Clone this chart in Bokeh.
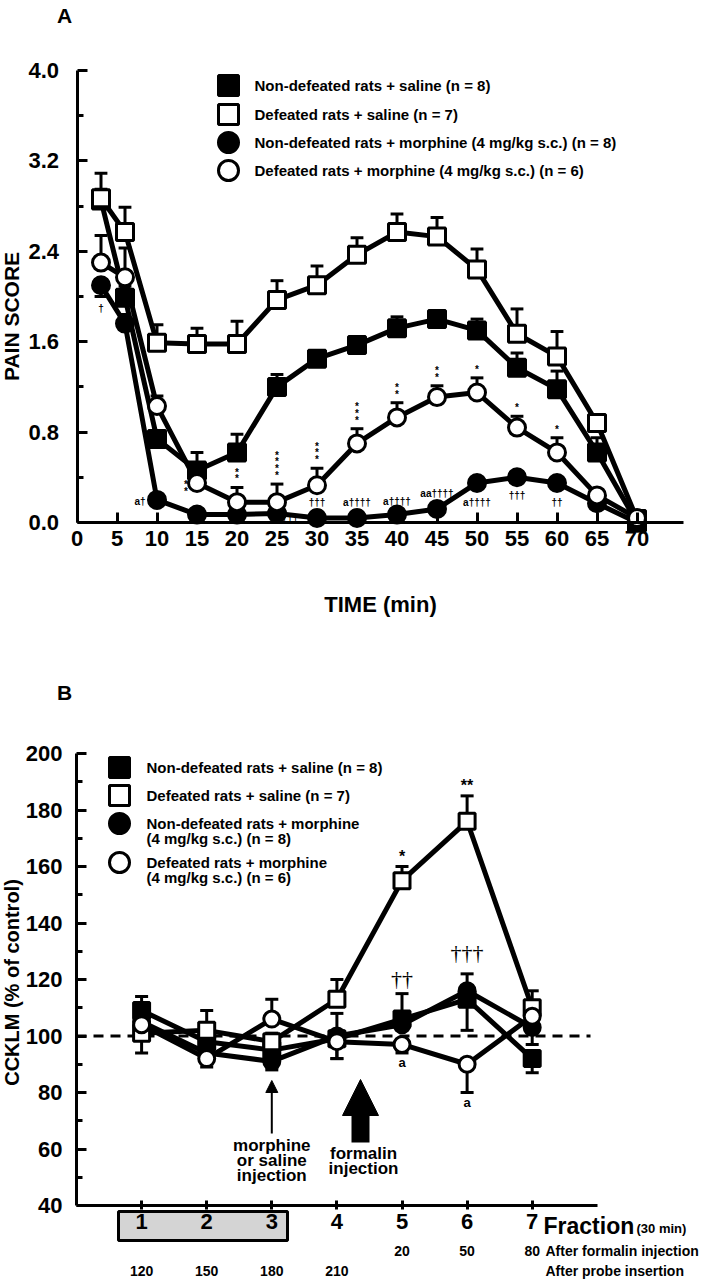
import numpy as np
from bokeh.plotting import figure
from bokeh.layouts import column
from bokeh.models import (Label, Arrow, NormalHead, BoxAnnotation, FixedTicker, Range1d,
                          PrintfTickFormatter)
from bokeh.core.properties import value
from bokeh.embed import file_html
from bokeh.resources import INLINE

SANS = "Liberation Sans"
SERIF = "Liberation Serif"

# ---------------- Panel A data (pain score) ----------------
time_min = [3, 6, 10, 15, 20, 25, 30, 35, 40, 45, 50, 55, 60, 65, 70]
nondef_saline = [2.85, 1.99, 0.74, 0.46, 0.62, 1.20, 1.45, 1.57, 1.72, 1.80, 1.70, 1.37, 1.18, 0.62, 0.00]
nondef_saline_sem = [0.10, 0.10, 0.06, 0.16, 0.16, 0.11, 0.07, 0.07, 0.10, 0.07, 0.10, 0.13, 0.16, 0.13, 0.0]
def_saline = [2.87, 2.57, 1.59, 1.58, 1.58, 1.97, 2.10, 2.37, 2.57, 2.53, 2.24, 1.67, 1.47, 0.88, 0.03]
def_saline_sem = [0.22, 0.22, 0.16, 0.14, 0.20, 0.17, 0.17, 0.15, 0.16, 0.17, 0.18, 0.22, 0.22, 0.05, 0.0]
nondef_morph = [2.10, 1.76, 0.20, 0.07, 0.07, 0.08, 0.04, 0.04, 0.07, 0.12, 0.35, 0.40, 0.35, 0.17, 0.00]
nondef_morph_sem = [-0.10, 0.08, 0.03, 0.05, 0.03, 0.03, 0.02, 0.02, 0.02, 0.03, 0.05, 0.04, 0.04, 0.03, 0.0]
def_morph = [2.30, 2.17, 1.03, 0.35, 0.18, 0.18, 0.33, 0.70, 0.93, 1.11, 1.15, 0.84, 0.62, 0.24, 0.04]
def_morph_sem = [0.24, 0.26, 0.09, 0.15, 0.13, 0.16, 0.15, 0.13, 0.13, 0.10, 0.13, 0.10, 0.13, 0.04, 0.0]

a_xticks = [0, 5, 10, 15, 20, 25, 30, 35, 40, 45, 50, 55, 60, 65, 70]
a_yticks = [0.0, 0.8, 1.6, 2.4, 3.2, 4.0]
a_yminor = [0.4, 1.2, 2.0, 2.8, 3.6]

legend_a = ["Non-defeated rats + saline (n = 8)",
            "Defeated rats + saline (n = 7)",
            "Non-defeated rats + morphine (4 mg/kg s.c.) (n = 8)",
            "Defeated rats + morphine (4 mg/kg s.c.) (n = 6)"]

star_times = [15, 20, 25, 30, 35, 40, 45, 50, 55, 60]
star_count = [2, 2, 4, 3, 3, 2, 2, 1, 1, 1]
dagger_times = [3, 10, 25, 30, 35, 40, 45, 50, 55, 60]
dagger_text = ["†", "a†", "†††", "†††", "a††††", "a††††", "aa††††", "a††††", "†††", "††"]

# ---------------- Panel B data (CCKLM % of control) ----------------
fraction = [1, 2, 3, 4, 5, 6, 7]
b_nondef_saline = [109, 98, 95, 99, 106, 113, 92]
b_nondef_saline_sem = [5, -4, -6, -7, 9, -11, -5]
b_def_saline = [101, 102, 98, 113, 155, 176, 110]
b_def_saline_sem = [-7, 7, 3, 7, 5, 9, 6]
b_nondef_morph = [105, 94, 91, 100, 104, 116, 103]
b_nondef_morph_sem = [3, -3, -3, 8, 4, 6, -6]
b_def_morph = [104, 92, 106, 98, 97, 90, 107]
b_def_morph_sem = [-3, -3, 7, -6, -3, -10, 3]
control_level = 100

b_yticks = [40, 60, 80, 100, 120, 140, 160, 180, 200]
b_yminor = [50, 70, 90, 110, 130, 150, 170, 190]
after_formalin = ["", "", "", "", "20", "50", "80"]
after_probe = ["120", "150", "180", "210", "", "", ""]

legend_b = [["Non-defeated rats + saline (n = 8)"],
            ["Defeated rats + saline (n = 7)"],
            ["Non-defeated rats + morphine", "(4 mg/kg s.c.) (n = 8)"],
            ["Defeated rats + morphine", "(4 mg/kg s.c.) (n = 6)"]]

STYLES = [("square", "black"), ("square", "white"), ("circle", "black"), ("circle", "white")]

# ---------------- layout geometry (pixels) ----------------
W = 705
A_H = 630
A_X0, A_PXX = 76.5, 8.0       # x pixel of t=0, px per minute
A_Y0, A_PXY = 522.0, 113.0    # y pixel of score 0, px per score unit
B_TOP, B_H = 630, 650
B_X0, B_PXX = 76.0, 65.1      # x pixel of fraction 0, px per fraction
B_Y40, B_PXY = 1205.0, 2.825  # page y pixel of 40 %, px per %


def pa(xp, yp):
    return (xp - A_X0) / A_PXX, (A_Y0 - yp) / A_PXY


def pb(xp, yp):
    return (xp - B_X0) / B_PXX, 40 + (B_Y40 - yp) / B_PXY


def style_axis(ax, tick_in=10, tick_out=0, standoff=8):
    ax.axis_line_width = 3
    ax.axis_line_color = "black"
    ax.major_tick_line_color = "black"
    ax.minor_tick_line_color = "black"
    ax.major_tick_line_width = 3
    ax.minor_tick_line_width = 3
    ax.major_tick_in = tick_in
    ax.major_tick_out = tick_out
    ax.minor_tick_in = 6
    ax.minor_tick_out = 0
    ax.major_label_text_font = SANS
    ax.major_label_text_font_style = "bold"
    ax.major_label_text_font_size = "22px"
    ax.major_label_text_color = "black"
    ax.major_label_standoff = standoff
    ax.axis_label_text_color = "black"


def add_label(p, x, y, text, size, font=SANS, style="bold", align="center",
              baseline="middle", angle=0.0):
    p.add_layout(Label(x=x, y=y, text=text, text_font=font, text_font_style=style,
                       text_font_size=size, text_align=align, text_baseline=baseline,
                       angle=angle, text_color="black"))


def draw_errorbars(p, xs, vals, sems, half):
    sx, sy0, sy1, cx0, cx1 = [], [], [], [], []
    for x, v, s in zip(xs, vals, sems):
        if s == 0:
            continue
        sx.append(x); sy0.append(v); sy1.append(v + s)
        cx0.append(x - half); cx1.append(x + half)
    p.segment(x0=sx, y0=sy0, x1=sx, y1=sy1, line_width=3, line_color="black")
    p.segment(x0=cx0, y0=sy1, x1=cx1, y1=sy1, line_width=3, line_color="black")


def base_fig(height, xr, yr):
    p = figure(width=W, height=height, x_range=Range1d(*xr), y_range=Range1d(*yr),
               output_backend="svg", toolbar_location=None,
               min_border_left=0, min_border_right=0, min_border_top=0, min_border_bottom=0)
    p.title.visible = False
    p.outline_line_color = None
    p.xgrid.grid_line_color = None
    p.ygrid.grid_line_color = None
    p.background_fill_color = "white"
    p.border_fill_color = "white"
    return p


# ======================= Panel A =======================
xa0, ya_top = pa(0, 0)
xa1, ya_bot = pa(W, A_H)
pA = base_fig(A_H, (xa0, xa1), (ya_bot, ya_top))

style_axis(pA.xaxis[0], tick_in=10, tick_out=0, standoff=8)
style_axis(pA.yaxis[0], tick_in=10, tick_out=0, standoff=18)
pA.xaxis[0].fixed_location = 0
pA.yaxis[0].fixed_location = 0
pA.xaxis[0].bounds = (0, pa(683, 0)[0])
pA.yaxis[0].bounds = (0, 4.0)
pA.xaxis[0].ticker = FixedTicker(ticks=a_xticks, minor_ticks=[])
pA.yaxis[0].ticker = FixedTicker(ticks=a_yticks, minor_ticks=a_yminor)
pA.yaxis[0].formatter = PrintfTickFormatter(format="%.1f")
pA.xaxis[0].axis_label = "TIME (min)"
pA.xaxis[0].axis_label_text_font = SANS
pA.xaxis[0].axis_label_text_font_style = "bold"
pA.xaxis[0].axis_label_text_font_size = "22px"
pA.xaxis[0].axis_label_standoff = 43

seriesA = [(nondef_saline, nondef_saline_sem), (def_saline, def_saline_sem),
           (nondef_morph, nondef_morph_sem), (def_morph, def_morph_sem)]

for vals, sem in seriesA:
    pA.line(time_min, vals, line_width=5, line_color="black")
for vals, sem in seriesA:
    draw_errorbars(pA, time_min, vals, sem, 0.8)
for (vals, sem), (mk, fill) in zip(seriesA, STYLES):
    pA.scatter(time_min, vals, marker=mk, size=17, fill_color=fill,
               line_color="black", line_width=3)

# stars above defeated+morphine error caps
star_dx = [-11, 0, 0, 0, 0, 0, 0, 0, 0, 0]
star_dy = [31, -3, -3, -3, -3, -3, -3, -3, -3, -3]
sx, sy, stxt = [], [], []
for t, n in zip(star_times, star_count):
    i = time_min.index(t)
    sx.append(t)
    sy.append(def_morph[i] + def_morph_sem[i])
    stxt.append("\n".join(["*"] * n))
pA.text(x=sx, y=sy, text=stxt, x_offset=star_dx, y_offset=star_dy,
        text_font=value(SANS), text_font_style="bold", text_font_size="10px",
        text_align="center", text_baseline="bottom", text_line_height=0.62,
        text_color="black")

# daggers near non-defeated+morphine points
dag_dx = [0, -17, 13, 0, 0, 0, 0, 0, 0, 0]
dag_dy = [23, 2, 5, -15, -15, -13, -15, 20, 18, 20]
gx, gy = [], []
for t in dagger_times:
    i = time_min.index(t)
    gx.append(t)
    gy.append(nondef_morph[i])
pA.text(x=gx, y=gy, text=dagger_text, x_offset=dag_dx, y_offset=dag_dy,
        text_font=value(SANS), text_font_style="bold", text_font_size="10px",
        text_align="center", text_baseline="middle", text_color="black")

# legend A
lx, _ = pa(228, 0)
ltx, _ = pa(254, 0)
for (mk, fill), yp, txt in zip(STYLES, [85, 114, 142, 170], legend_a):
    _, yy = pa(0, yp)
    pA.scatter([lx], [yy], marker=mk, size=20, fill_color=fill,
               line_color="black", line_width=3)
    add_label(pA, ltx, yy, txt, "15px", align="left")

add_label(pA, *pa(64, 15), "A", "21px")
add_label(pA, *pa(11, 316), "PAIN SCORE", "21px", angle=np.pi / 2)

# ======================= Panel B =======================
xb0, yb_top = pb(0, B_TOP)
xb1, yb_bot = pb(W, B_TOP + B_H)
pB = base_fig(B_H, (xb0, xb1), (yb_bot, yb_top))

style_axis(pB.xaxis[0], tick_in=5, tick_out=4, standoff=4)
style_axis(pB.yaxis[0], tick_in=10, tick_out=0, standoff=14)
pB.xaxis[0].fixed_location = 40
pB.yaxis[0].fixed_location = 0
pB.xaxis[0].bounds = (0, 8)
pB.yaxis[0].bounds = (40, 200)
pB.xaxis[0].ticker = FixedTicker(ticks=fraction, minor_ticks=[])
pB.yaxis[0].ticker = FixedTicker(ticks=b_yticks, minor_ticks=b_yminor)

# grey box around baseline fractions 1-3
bx0, by0 = pb(118, 1240)
bx1, by1 = pb(287, 1211)
pB.add_layout(BoxAnnotation(left=bx0, right=bx1, bottom=by0, top=by1,
                            fill_color="#d4d4d4", fill_alpha=1.0, line_color="black",
                            line_alpha=1.0, line_width=3, level="underlay"))

# 100 % control level (dashed)
pB.line([0, pb(590, 0)[0]], [control_level, control_level], line_color="black",
        line_width=3, line_dash="10 7")

seriesB = [(b_nondef_saline, b_nondef_saline_sem), (b_def_saline, b_def_saline_sem),
           (b_nondef_morph, b_nondef_morph_sem), (b_def_morph, b_def_morph_sem)]
for vals, sem in seriesB:
    pB.line(fraction, vals, line_width=5, line_color="black")
for vals, sem in seriesB:
    draw_errorbars(pB, fraction, vals, sem, 0.1)
for (vals, sem), (mk, fill) in zip(seriesB, STYLES):
    pB.scatter(fraction, vals, marker=mk, size=16, fill_color=fill,
               line_color="black", line_width=3)

# significance marks B
i5, i6 = fraction.index(5), fraction.index(6)
pB.text(x=[5, 6], y=[b_def_saline[i5] + b_def_saline_sem[i5], b_def_saline[i6] + b_def_saline_sem[i6]],
        text=["*", "**"], y_offset=[-10, -10],
        text_font=value(SANS), text_font_style="bold", text_font_size="16px",
        text_align="center", text_baseline="middle", text_color="black")
pB.text(x=[5, 6], y=[b_nondef_saline[i5] + b_nondef_saline_sem[i5], b_nondef_morph[i6] + b_nondef_morph_sem[i6]],
        text=["††", "†††"], y_offset=[-15, -21],
        text_font=value(SERIF), text_font_size="22px",
        text_align="center", text_baseline="middle", text_color="black")
pB.text(x=[5, 6], y=[b_def_morph[i5] + b_def_morph_sem[i5], b_def_morph[i6] + b_def_morph_sem[i6]],
        text=["a", "a"], y_offset=[10, 10],
        text_font=value(SANS), text_font_style="bold", text_font_size="13px",
        text_align="center", text_baseline="middle", text_color="black")

# injection arrows
_, ay0 = pb(0, 1133)
_, ay1 = pb(0, 1080)
pB.add_layout(Arrow(end=NormalHead(size=12, fill_color="black", line_color="black", line_width=1),
                    x_start=3, y_start=ay0, x_end=3, y_end=ay1,
                    line_width=2, line_color="black"))
fx, fy0 = pb(360, 1142)
_, fy1 = pb(360, 1079)
pB.add_layout(Arrow(end=NormalHead(size=36, fill_color="black", line_color="black", line_width=1),
                    x_start=fx, y_start=fy0, x_end=fx, y_end=fy1,
                    line_width=18, line_color="black"))
for yp, txt in zip([1145, 1160, 1175], ["morphine", "or saline", "injection"]):
    add_label(pB, 3.0, pb(0, yp)[1], txt, "17px")
for yp, txt in zip([1153, 1168], ["formalin", "injection"]):
    add_label(pB, *pb(363, yp), txt, "17px")

# legend B
lbx, _ = pb(119, 0)
lbtx, _ = pb(146, 0)
for (mk, fill), yp, lines in zip(STYLES, [767, 795, 823, 862], legend_b):
    yy = pb(0, yp)[1]
    pB.scatter([lbx], [yy], marker=mk, size=20, fill_color=fill,
               line_color="black", line_width=3)
    for k, txt in enumerate(lines):
        add_label(pB, lbtx, pb(0, yp + 15 * k)[1], txt, "15px", align="left")

add_label(pB, *pb(64, 692), "B", "21px")
add_label(pB, *pb(11, 982), "CCKLM (% of control)", "20px", angle=np.pi / 2)

# bottom annotations
add_label(pB, *pb(543, 1225), "Fraction", "23px", align="left")
add_label(pB, *pb(636, 1228), "(30 min)", "13px", align="left")
for f, txt in zip(fraction, after_formalin):
    if txt:
        add_label(pB, f, pb(0, 1250)[1], txt, "14px")
for f, txt in zip(fraction, after_probe):
    if txt:
        add_label(pB, f, pb(0, 1270)[1], txt, "14px")
add_label(pB, *pb(545, 1250), "After formalin injection", "14px", align="left")
add_label(pB, *pb(545, 1270), "After probe insertion", "14px", align="left")

layout = column(pA, pB)
open("out.html", "w").write(file_html(layout, INLINE))
